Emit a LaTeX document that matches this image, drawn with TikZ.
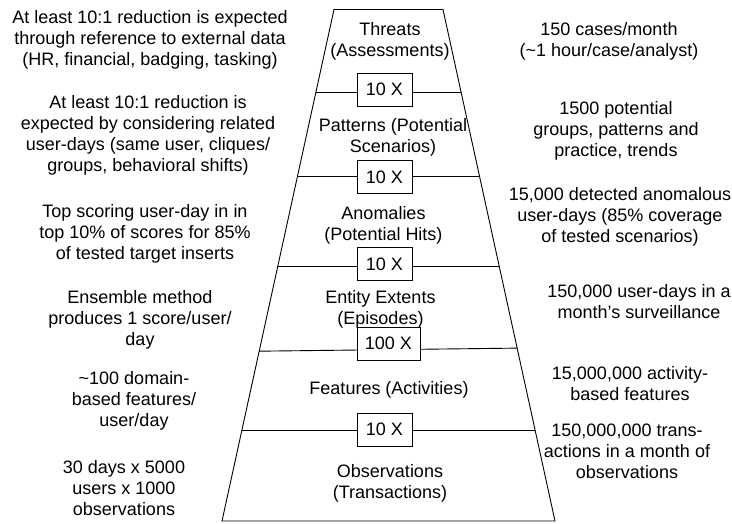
\documentclass[tikz,border=0pt]{standalone}
\usepackage{fontspec}
\setmainfont{Liberation Sans}
\usetikzlibrary{calc}
\tikzset{
  txt/.style={align=center, inner sep=0pt, font=\fontsize{18}{21}\selectfont},
  ratio/.style={draw, line width=0.9pt, fill=white, minimum height=33pt, inner sep=0pt, font=\fontsize{18}{21}\selectfont},
  edge/.style={line width=0.9pt},
}
\begin{document}
\begin{tikzpicture}[x=1pt, y=-1pt]
\useasboundingbox (0,0) rectangle (732,523);
% trapezoid corners
\coordinate (tl) at (334,9.5);
\coordinate (tr) at (443,9.5);
\coordinate (br) at (555,521);
\coordinate (bl) at (222,521);
\draw[edge] (tl) -- (tr) -- (br) -- (bl) -- cycle;
% divider end points on the slanted sides
\coordinate (l1) at ($(tl)!0.163!(bl)$); \coordinate (r1) at ($(tr)!0.163!(br)$);
\coordinate (l2) at ($(tl)!0.327!(bl)$); \coordinate (r2) at ($(tr)!0.327!(br)$);
\coordinate (l3) at ($(tl)!0.503!(bl)$); \coordinate (r3) at ($(tr)!0.503!(br)$);
\coordinate (l4) at ($(tl)!0.668!(bl)$); \coordinate (r4) at ($(tr)!0.662!(br)$);
\coordinate (l5) at ($(tl)!0.822!(bl)$); \coordinate (r5) at ($(tr)!0.822!(br)$);
\draw[edge] (l1) -- (r1);
\draw[edge] (l2) -- (r2);
\draw[edge] (l3) -- (r3);
\draw[edge] (l4) -- (r4);
\draw[edge] (l5) -- (r5);
% reduction factors
\node[ratio, minimum width=55pt] (f1) at (384.5,89.5) {10 X};
\node[ratio, minimum width=55pt] (f2) at (384.5,177) {10 X};
\node[ratio, minimum width=55pt] (f3) at (384.5,264) {10 X};
\node[ratio, minimum width=63pt] (f4) at (388.5,343.5) {100 X};
\node[ratio, minimum width=55pt] (f5) at (384.5,429.5) {10 X};
% levels
\node[txt] (lv1) at (390,41) {Threats\\(Assessments)};
\node[txt] (lv2) at (393,137.5) {Patterns (Potential\\Scenarios)};
\node[txt] (lv3) at (383.5,225.5) {Anomalies\\(Potential Hits)};
\node[txt] (lv4) at (380.5,309) {Entity Extents\\(Episodes)};
\node[txt] (lv5) at (389,389.5) {Features (Activities)};
\node[txt] (lv6) at (390,483.5) {Observations\\(Transactions)};
% left notes
\node[txt] (n1) at (150,40) {At least 10:1 reduction is expected\\through reference to external data\\(HR, financial, badging, tasking)};
\node[txt] (n2) at (148,135) {At least 10:1 reduction is\\expected by considering related\\user-days (same user, cliques/\\groups, behavioral shifts)};
\node[txt] (n3) at (145,233.5) {Top scoring user-day in in\\top 10\% of scores for 85\%\\of tested target inserts};
\node[txt] (n4) at (140,320) {Ensemble method\\produces 1 score/user/\\day};
\node[txt] (n5) at (134,401) {\textasciitilde100 domain-\\based features/\\user/day};
\node[txt] (n6) at (124,488) {30 days x 5000\\users x 1000\\observations};
% right volumes
\node[txt] (v1) at (609,41) {150 cases/month\\(\textasciitilde1 hour/case/analyst)};
\node[txt] (v2) at (616,131) {1500 potential\\groups, patterns and\\practice, trends};
\node[txt] (v3) at (620,217) {15,000 detected anomalous\\user-days (85\% coverage\\of tested scenarios)};
\node[txt] (v4) at (639,302) {150,000 user-days in a\\month’s surveillance};
\node[txt] (v5) at (630,383.5) {15,000,000 activity-\\based features};
\node[txt] (v6) at (627,451) {150,000,000 trans-\\actions in a month of\\observations};
\end{tikzpicture}
\end{document}
